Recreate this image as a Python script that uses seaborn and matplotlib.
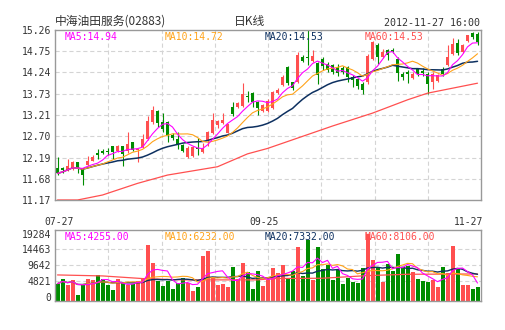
import numpy as np
import pandas as pd
import matplotlib
matplotlib.use('Agg')
import matplotlib.pyplot as plt
import matplotlib.transforms as mtrans
import seaborn as sns

# ---------------- data ----------------
opens = [11.95, 11.93, 11.89, 11.91, 12.08, 11.93, 12.01, 12.12, 12.30, 12.35,
         12.34, 12.47, 12.35, 12.47, 12.36, 12.56, 12.37, 12.44, 12.64, 13.05,
         13.31, 13.04, 13.05, 12.73, 12.64, 12.49, 12.20, 12.22, 12.42, 12.33,
         12.60, 12.77, 12.98, 13.03, 12.79, 13.41, 13.40, 13.43, 13.67, 13.74,
         13.52, 13.31, 13.31, 13.38, 13.74, 13.94, 14.38, 14.00, 14.00, 14.62,
         14.61, 14.52, 14.46, 14.56, 14.45, 14.42, 14.38, 14.35, 14.38, 14.14,
         14.08, 13.97, 14.02, 14.57, 14.90, 14.62, 14.78, 14.78, 14.56, 14.20,
         14.24, 14.11, 14.33, 14.28, 14.21, 14.00, 14.03, 14.33, 14.42, 14.69,
         14.95, 14.73, 14.99, 15.18, 15.16]
highs = [12.20, 11.97, 12.16, 12.11, 12.09, 11.95, 12.24, 12.25, 12.40, 12.40,
         12.42, 12.48, 12.49, 12.48, 12.80, 12.57, 12.40, 12.75, 13.20, 13.43,
         13.33, 13.26, 13.07, 12.78, 12.81, 12.52, 12.46, 12.46, 12.67, 12.55,
         12.83, 13.26, 13.10, 13.26, 13.01, 13.53, 13.52, 13.98, 13.80, 13.76,
         13.54, 13.48, 13.60, 13.80, 13.86, 14.18, 14.40, 14.02, 14.72, 14.66,
         15.40, 14.79, 14.50, 14.62, 14.50, 14.45, 14.45, 14.40, 14.40, 14.18,
         14.10, 14.00, 14.68, 15.00, 14.94, 14.80, 14.80, 14.82, 14.60, 14.25,
         14.29, 14.25, 14.35, 14.35, 14.25, 14.25, 14.20, 14.36, 14.90, 15.07,
         15.04, 14.92, 15.15, 15.22, 15.20]
lows = [11.78, 11.82, 11.87, 11.90, 11.81, 11.52, 11.99, 12.10, 12.15, 12.28,
        12.25, 12.16, 12.33, 11.99, 12.29, 12.35, 12.08, 12.42, 12.62, 13.00,
        12.93, 12.81, 12.57, 12.62, 12.40, 12.33, 12.18, 12.20, 12.25, 12.30,
        12.47, 12.75, 12.90, 13.00, 12.77, 13.20, 13.38, 13.40, 13.52, 13.40,
        13.22, 13.29, 13.29, 13.36, 13.72, 13.92, 13.94, 13.82, 13.98, 14.50,
        14.42, 14.50, 13.97, 14.30, 14.25, 14.20, 14.15, 14.20, 14.02, 13.90,
        13.85, 13.73, 13.96, 14.55, 14.45, 14.58, 14.55, 14.70, 14.04, 14.05,
        13.99, 14.08, 14.15, 14.15, 13.72, 13.84, 14.00, 14.15, 14.40, 14.65,
        14.66, 14.70, 14.97, 15.05, 14.90]
closes = [11.81, 11.88, 11.99, 12.09, 11.93, 11.76, 12.12, 12.21, 12.26, 12.30,
          12.32, 12.33, 12.47, 12.28, 12.52, 12.37, 12.39, 12.64, 13.07, 13.34,
          13.02, 12.88, 12.74, 12.65, 12.49, 12.36, 12.42, 12.44, 12.40, 12.41,
          12.81, 13.09, 13.07, 13.09, 12.99, 13.23, 13.50, 13.72, 13.65, 13.52,
          13.38, 13.46, 13.55, 13.78, 13.82, 14.14, 13.98, 13.87, 14.65, 14.52,
          14.58, 14.64, 14.17, 14.40, 14.30, 14.26, 14.22, 14.25, 14.12, 14.06,
          13.91, 13.81, 14.63, 14.98, 14.62, 14.72, 14.65, 14.74, 14.22, 14.13,
          14.19, 14.21, 14.19, 14.23, 13.97, 14.21, 14.17, 14.19, 14.62, 14.93,
          14.70, 14.89, 15.13, 15.08, 14.96]
volumes = [4049, 5365, 3745, 5264, 708, 3543, 5568, 5061, 6783, 5568,
           3543, 2227, 5568, 4150, 3644, 3948, 4860, 5872, 15794, 10428,
           4960, 3340, 4960, 2430, 4353, 5872, 4353, 1822, 2936, 12452,
           13970, 5872, 3644, 3847, 2936, 9110, 5467, 10428, 7694, 2430,
           7897, 3341, 5163, 8706, 7188, 9718, 5669, 8000, 15086, 6378,
           17313, 5163, 15086, 8402, 9718, 5163, 8200, 3948, 5669, 4657,
           4353, 8706, 19000, 11237, 9212, 4657, 10022, 7897, 13058, 8909,
           9415, 7694, 5467, 4860, 4657, 5200, 3100, 9000, 7300, 15500,
           8500, 3700, 3600, 2300, 3100]
# MA60 lines read at a few points (history before the window is not visible)
ma60_idx = [0, 4, 9, 16, 22, 32, 38, 42, 55, 63, 70, 74, 84]
ma60_val = [11.17, 11.17, 11.29, 11.57, 11.77, 11.97, 12.28, 12.41, 12.95, 13.26, 13.58, 13.74, 13.98]
vol_ma60_idx = [0, 9, 17, 25, 40, 43, 53, 62, 70, 84]
vol_ma60_val = [6700, 6400, 5600, 5200, 5200, 5600, 5700, 6500, 6900, 7000]

price_ticks = [11.17, 11.68, 12.19, 12.70, 13.21, 13.73, 14.24, 14.75, 15.26]
vol_ticks = [0, 4821, 9642, 14463, 19284]
date_ticks = [0, 41, 84]
date_labels = ['07-27', '09-25', '11-27']
title_left = '中海油田服务(02883)'
title_mid = '日K线'
title_right = '2012-11-27 16:00'
ma_labels = ['MA5:14.94', 'MA10:14.72', 'MA20:14.53', 'MA60:14.53']
vol_labels = ['MA5:4255.00', 'MA10:6232.00', 'MA20:7332.00', 'MA60:8106.00']

# ---------------- style ----------------
sns.set_style('white')
plt.rcParams['font.family'] = ['DejaVu Sans Mono', 'Noto Sans CJK SC']
plt.rcParams['lines.scale_dashes'] = False

RED = '#ff4f4f'
GREEN = '#008c00'
MAG = '#ff00ff'
ORANGE = '#ffa31a'
NAVY = '#0d3060'
MA60C = '#ff5050'
GRID = '#d4d4d4'
FRAME = '#999999'
TXT = '#333333'
ma_colors = [MAG, ORANGE, NAVY, MA60C]

o = np.array(opens); h = np.array(highs); l = np.array(lows); c = np.array(closes)
v = np.array(volumes, dtype=float)
n = len(c)
x = np.arange(n)
colors = np.where(c >= o, RED, GREEN)

fig = plt.figure(figsize=(5.05, 3.30), dpi=100)
W, H = 505.0, 330.0
ax = fig.add_axes([55 / W, (H - 200) / H, 426 / W, 170 / H])
axv = fig.add_axes([55 / W, (H - 301) / H, 426 / W, 70.7 / H])

XL = (-0.5, 84.7)
VOL_FLOOR = -1215

def frame_and_grid(a, hvals):
    for s in a.spines.values():
        s.set_color(FRAME)
        s.set_linewidth(1.0)
    for hv in hvals:
        a.axhline(hv, color=GRID, lw=0.8, ls=(0, (3, 2)), zorder=0)
    for k in range(1, 8):
        a.plot([k / 8, k / 8], [0, 1], transform=a.transAxes, color=GRID,
               lw=0.8, ls=(0, (3, 2)), zorder=0)

# ---------------- price panel ----------------
frame_and_grid(ax, price_ticks[1:-1])
ax.vlines(x, l, h, colors=colors, linewidth=0.8, zorder=2)
body_bot = np.minimum(o, c)
body_h = np.maximum(np.abs(c - o), 0.025)
ax.bar(x, body_h, bottom=body_bot, width=0.7, color=colors, linewidth=0, zorder=2)

cs = pd.Series(c)
sns.lineplot(x=ma60_idx, y=ma60_val, ax=ax, color=MA60C, linewidth=0.9, zorder=3)
sns.lineplot(x=x, y=cs.rolling(20, min_periods=1).mean().values, ax=ax, color=NAVY, linewidth=1.1, zorder=3)
sns.lineplot(x=x, y=cs.rolling(10, min_periods=1).mean().values, ax=ax, color=ORANGE, linewidth=0.8, zorder=3)
sns.lineplot(x=x, y=cs.rolling(5, min_periods=1).mean().values, ax=ax, color=MAG, linewidth=0.8, zorder=3)

ax.set_xlim(*XL)
ax.set_ylim(price_ticks[0], price_ticks[-1])
ax.set_yticks(price_ticks)
ax.set_yticklabels([f'{t:.2f}' for t in price_ticks])
ax.set_xticks(date_ticks)
ax.set_xticklabels(date_labels)
ax.tick_params(length=0, labelsize=7, labelcolor=TXT)
ax.tick_params(axis='y', pad=3)
ax.tick_params(axis='x', pad=12)
ax.set_xlabel(''); ax.set_ylabel('')
labs = ax.get_xticklabels()
for i, lab in enumerate(labs):
    if i == len(labs) - 1:
        lab.set_horizontalalignment('right')
        dx = 5.5
    else:
        dx = 2
    lab.set_transform(lab.get_transform() + mtrans.ScaledTranslation(dx / 100, 0, fig.dpi_scale_trans))

for k, (txt, col) in enumerate(zip(ma_labels, ma_colors)):
    ax.text((65 + 100 * k - 55) / 426, (200 - 37) / 170, txt, transform=ax.transAxes,
            color=col, fontsize=7, va='center', ha='left', zorder=5)

# ---------------- volume panel ----------------
frame_and_grid(axv, vol_ticks[1:-1])
axv.bar(x, v - VOL_FLOOR, bottom=VOL_FLOOR, width=0.8, color=colors, linewidth=0, zorder=2)
vs = pd.Series(v)
sns.lineplot(x=vol_ma60_idx, y=vol_ma60_val, ax=axv, color=MA60C, linewidth=0.9, zorder=3)
sns.lineplot(x=x, y=vs.rolling(20, min_periods=1).mean().values, ax=axv, color=NAVY, linewidth=1.0, zorder=3)
sns.lineplot(x=x, y=vs.rolling(10, min_periods=1).mean().values, ax=axv, color=ORANGE, linewidth=0.8, zorder=3)
sns.lineplot(x=x, y=vs.rolling(5, min_periods=1).mean().values, ax=axv, color=MAG, linewidth=0.8, zorder=3)
axv.set_xlim(*XL)
axv.set_ylim(VOL_FLOOR, 20257)
axv.set_yticks(vol_ticks)
axv.set_yticklabels([str(t) for t in vol_ticks])
axv.set_xticks([])
axv.tick_params(length=0, labelsize=7, labelcolor=TXT, pad=3)
axv.set_xlabel(''); axv.set_ylabel('')
for k, (txt, col) in enumerate(zip(vol_labels, ma_colors)):
    axv.text((65 + 100 * k - 55) / 426, (301 - 236.7) / 70.7, txt, transform=axv.transAxes,
             color=col, fontsize=7, va='center', ha='left', zorder=5)

# ---------------- header ----------------
fig.text(55 / W, 1 - 21.5 / H, title_left, family=['Noto Sans CJK SC'], fontsize=8.5,
         color=TXT, ha='left', va='center')
fig.text(250 / W, 1 - 21.5 / H, title_mid, family=['Noto Sans CJK SC'], fontsize=8.5,
         color=TXT, ha='center', va='center')
fig.text(480 / W, 1 - 26.5 / H, title_right, fontsize=7.2, color=TXT, ha='right', va='baseline')

fig.savefig('out.png', dpi=100)
